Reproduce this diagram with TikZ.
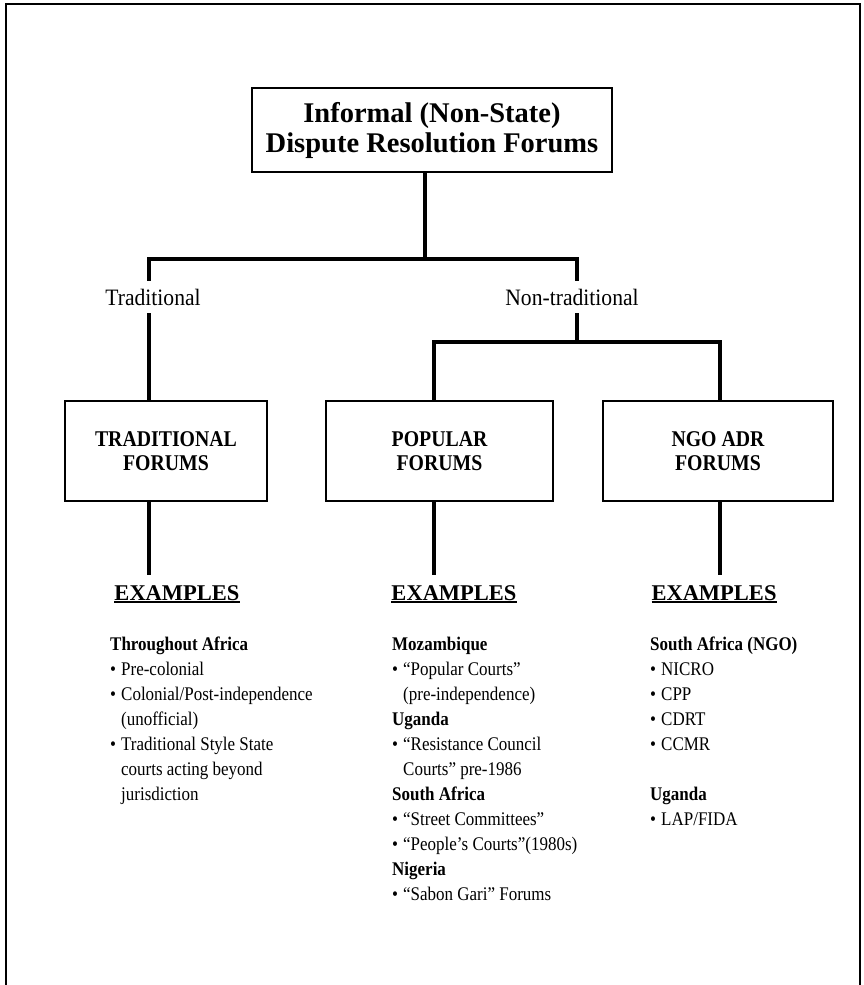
\documentclass[tikz,border=0pt]{standalone}
\usepackage{fontspec}
\setmainfont{Liberation Serif}
\newfontfamily\bodyf[FakeStretch=0.88]{Liberation Serif}
\newfontfamily\labf[FakeStretch=0.92]{Liberation Serif}
\newfontfamily\boxf[FakeStretch=0.88]{Liberation Serif}
\newcommand{\bitem}{\makebox[11pt][l]{•}}
\newcommand{\bcont}{\hspace*{11pt}}
\newcommand{\exul}[1]{\leavevmode\setbox0=\hbox{#1}\rlap{\rule[-3pt]{\wd0}{1.8pt}}\box0}
\begin{document}
\begin{tikzpicture}[x=1pt,y=-1pt,
  box/.style={draw,line width=2.6pt,align=center,font=\boxf\bfseries\fontsize{22.5}{24}\selectfont,inner sep=0pt},
  conn/.style={line width=3.3pt},
  lab/.style={font=\labf\fontsize{23.5}{25}\selectfont,inner xsep=0pt,inner ysep=8pt},
  exh/.style={font=\bfseries\fontsize{22.5}{26}\selectfont,inner sep=0pt,anchor=base},
  lst/.style={font=\bodyf\fontsize{19.3}{25}\selectfont,align=left,anchor=north west,inner sep=0pt}]
\useasboundingbox (0,0) rectangle (863,985);
\draw[line width=2.2pt] (6,985) -- (6,4) -- (860,4) -- (860,985);

\node[box,minimum width=360,minimum height=84,font=\bfseries\fontsize{28.5}{30}\selectfont] (top) at (432,130) {Informal (Non-State)\\Dispute Resolution Forums};

\node[box,minimum width=202,minimum height=100] (tf) at (166,451) {TRADITIONAL\\FORUMS};
\node[box,minimum width=227,minimum height=100] (pf) at (439.5,451) {POPULAR\\FORUMS};
\node[box,minimum width=230,minimum height=100] (nf) at (718,451) {NGO ADR\\FORUMS};

\node[lab] (tl) at (153,297) {Traditional};
\node[lab] (nl) at (572,297) {Non-traditional};

\coordinate (j0) at (425,259);
\coordinate (jL) at (149,259);
\coordinate (jR) at (577,259);
\draw[conn] (top.south -| j0) -- (j0);
\draw[conn] (jL |- tl.north) -- (jL) -- (jR) -- (jR |- nl.north);
\draw[conn] (jL |- tl.south) -- (jL |- tf.north);

\coordinate (k0) at (577,342);
\coordinate (kL) at (434,342);
\coordinate (kR) at (720,342);
\draw[conn] (k0 |- nl.south) -- (k0);
\draw[conn] (kL |- pf.north) -- (kL) -- (kR) -- (kR |- nf.north);

\node[exh] (e1) at (177,600) {\exul{EXAMPLES}};
\node[exh] (e2) at (454,600) {\exul{EXAMPLES}};
\node[exh] (e3) at (714,600) {\exul{EXAMPLES}};
\coordinate (c1) at (149,575);
\coordinate (c2) at (434,575);
\coordinate (c3) at (720,575);
\draw[conn] (c1 |- tf.south) -- (c1);
\draw[conn] (c2 |- pf.south) -- (c2);
\draw[conn] (c3 |- nf.south) -- (c3);

\node[lst] (l1) at (110,637) {\textbf{Throughout Africa}\\
\bitem Pre-colonial\\
\bitem Colonial/Post-independence\\
\bcont (unofficial)\\
\bitem Traditional Style State\\
\bcont courts acting beyond\\
\bcont jurisdiction};

\node[lst] (l2) at (392,637) {\textbf{Mozambique}\\
\bitem “Popular Courts”\\
\bcont (pre-independence)\\
\textbf{Uganda}\\
\bitem “Resistance Council\\
\bcont Courts” pre-1986\\
\textbf{South Africa}\\
\bitem “Street Committees”\\
\bitem “People’s Courts”(1980s)\\
\textbf{Nigeria}\\
\bitem “Sabon Gari” Forums};

\node[lst] (l3) at (650,637) {\textbf{South Africa (NGO)}\\
\bitem NICRO\\
\bitem CPP\\
\bitem CDRT\\
\bitem CCMR\\[25pt]
\textbf{Uganda}\\
\bitem LAP/FIDA};
\end{tikzpicture}
\end{document}
